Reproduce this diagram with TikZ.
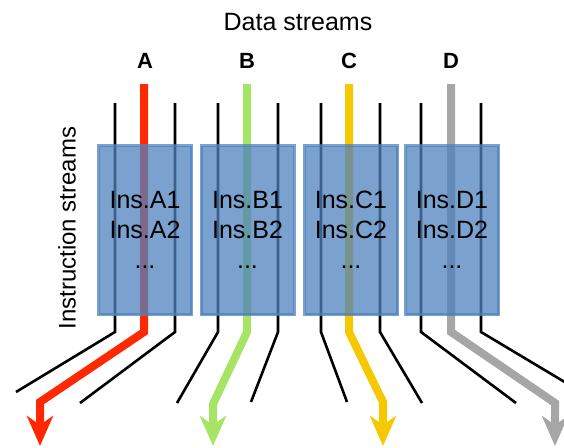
\documentclass[tikz,border=0pt]{standalone}
\usepackage{fontspec}
\setmainfont{Liberation Sans}
\usetikzlibrary{arrows.meta}
\definecolor{insblue}{RGB}{79,129,189}
\definecolor{streamred}{RGB}{255,40,0}
\definecolor{streamgreen}{RGB}{165,228,100}
\definecolor{streamyellow}{RGB}{245,200,0}
\definecolor{streamgray}{RGB}{166,166,166}
\begin{document}
\begin{tikzpicture}[x=1pt, y=-1pt]
\tikzset{insbox/.style={shape=rectangle, draw=insblue, line width=3pt, fill=insblue, opacity=0.75, text opacity=1, minimum width=93pt, minimum height=169pt, inner sep=0pt, align=center, font=\fontsize{25}{30}\selectfont}}
\tikzset{blackstream/.style={draw=black, line width=2.6pt}}
\tikzset{datastream/.style={line width=8pt, -{Stealth[length=30pt, width=26pt, inset=9pt]}}}
\tikzset{streamlabel/.style={font=\fontsize{22}{26}\selectfont\bfseries}}
\useasboundingbox (0,0) rectangle (564,447);
% titles
\node (title) at (298,22) {\fontsize{25}{30}\selectfont Data streams};
\node (instr) [rotate=90] at (67,228) {\fontsize{24}{29}\selectfont Instruction streams};
\node (labA) [streamlabel] at (145,61) {A};
\node (labB) [streamlabel] at (247,61) {B};
\node (labC) [streamlabel] at (349,61) {C};
\node (labD) [streamlabel] at (451,61) {D};
% stream ends
\coordinate (knee) at (0,332);
\coordinate (aL) at (115,103); \coordinate (aLe) at (16,392);
\coordinate (aM) at (144, 84); \coordinate (aMb) at (40,402); \coordinate (aMe) at (40,446);
\coordinate (aR) at (175,103); \coordinate (aRe) at (80,403);
\coordinate (bL) at (218,103); \coordinate (bLe) at (177,403);
\coordinate (bM) at (247, 84); \coordinate (bMb) at (213,404); \coordinate (bMe) at (213,446);
\coordinate (bR) at (278,103); \coordinate (bRe) at (251,402);
\coordinate (cL) at (321,103); \coordinate (cLe) at (347,402);
\coordinate (cM) at (349, 84); \coordinate (cMb) at (383,402); \coordinate (cMe) at (383,446);
\coordinate (cR) at (380,103); \coordinate (cRe) at (422,403);
\coordinate (dL) at (421,103); \coordinate (dLe) at (516,403);
\coordinate (dM) at (451, 84); \coordinate (dMb) at (555,403); \coordinate (dMe) at (555,446);
\coordinate (dR) at (481,103); \coordinate (dRe) at (568,384);
% instruction streams
\draw[blackstream] (aL) -- (aL |- knee) -- (aLe);
\draw[blackstream] (aR) -- (aR |- knee) -- (aRe);
\draw[blackstream] (bL) -- (bL |- knee) -- (bLe);
\draw[blackstream] (bR) -- (bR |- knee) -- (bRe);
\draw[blackstream] (cL) -- (cL |- knee) -- (cLe);
\draw[blackstream] (cR) -- (cR |- knee) -- (cRe);
\draw[blackstream] (dL) -- (dL |- knee) -- (dLe);
\draw[blackstream] (dR) -- (dR |- knee) -- (dRe);
% data streams
\draw[datastream, draw=streamred] (aM) -- (aM |- knee) -- (aMb) -- (aMe);
\draw[datastream, draw=streamgreen] (bM) -- (bM |- knee) -- (bMb) -- (bMe);
\draw[datastream, draw=streamyellow] (cM) -- (cM |- knee) -- (cMb) -- (cMe);
\draw[datastream, draw=streamgray] (dM) -- (dM |- knee) -- (dMb) -- (dMe);
% processing elements
\node (boxA) [insbox] at (145,230) {Ins.A1\\Ins.A2\\...};
\node (boxB) [insbox] at (247.5,230) {Ins.B1\\Ins.B2\\...};
\node (boxC) [insbox] at (351,230) {Ins.C1\\Ins.C2\\...};
\node (boxD) [insbox] at (452,230) {Ins.D1\\Ins.D2\\...};
\end{tikzpicture}
\end{document}
